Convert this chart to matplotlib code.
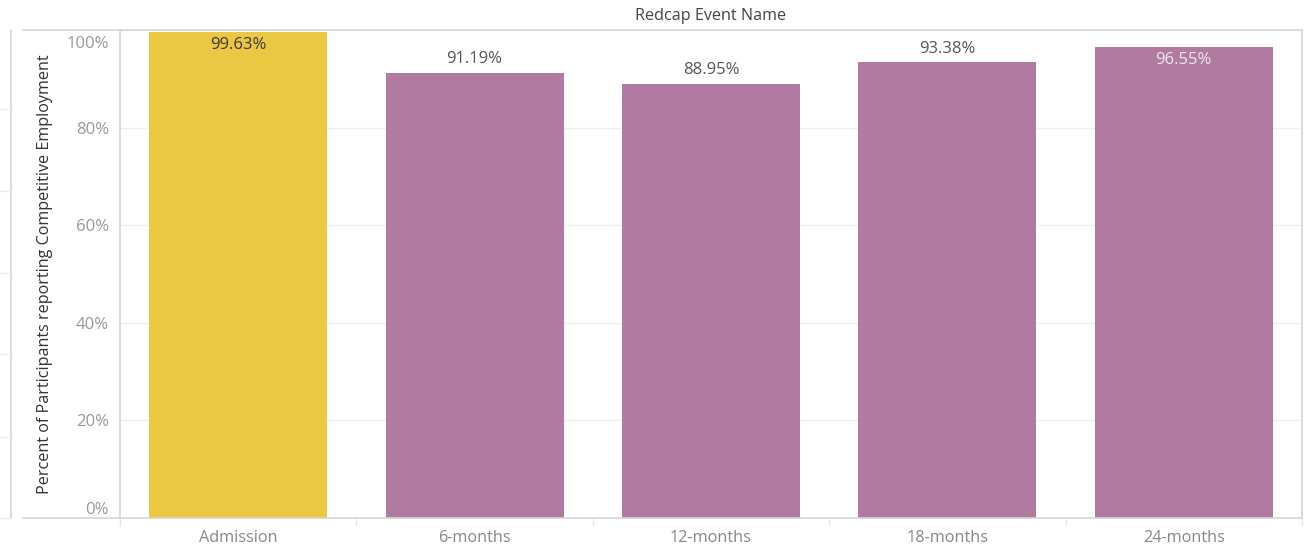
import matplotlib
matplotlib.use("Agg")
import matplotlib.pyplot as plt
from matplotlib.lines import Line2D
from matplotlib.transforms import ScaledTranslation

plt.rcParams['font.family'] = ['Open Sans', 'DejaVu Sans']

categories = ["Admission", "6-months", "12-months", "18-months", "24-months"]
values = [99.63, 91.19, 88.95, 93.38, 96.55]
labels = ["99.63%", "91.19%", "88.95%", "93.38%", "96.55%"]
colors = ["#EBC844", "#B07AA1", "#B07AA1", "#B07AA1", "#B07AA1"]
label_inside = [True, False, False, False, True]
label_colors = ["#3a3a3a", "#555555", "#555555", "#555555", "#f2e6ee"]
yticks = [0, 20, 40, 60, 80, 100]
ytick_labels = ["0%", "20%", "40%", "60%", "80%", "100%"]

W, H = 1305, 548
fig = plt.figure(figsize=(W / 100, H / 100), dpi=100)
L, R, T, B = 120, 1302, 30, 518
ax = fig.add_axes([L / W, (H - B) / H, (R - L) / W, (B - T) / H])

x = list(range(len(categories)))
ax.bar(x, values, width=0.753, color=colors, zorder=2)
ax.set_xlim(-0.5, len(categories) - 0.5)
ax.set_ylim(0, 100)

for xi, v, lab, inside, c in zip(x, values, labels, label_inside, label_colors):
    if inside:
        ax.annotate(lab, (xi, v), xytext=(0, -4), textcoords="offset points",
                    ha="center", va="top", fontsize=12, color=c, zorder=3)
    else:
        ax.annotate(lab, (xi, v), xytext=(0, 4), textcoords="offset points",
                    ha="center", va="bottom", fontsize=12, color=c, zorder=3)

ax.set_yticks(yticks)
ax.set_yticklabels(ytick_labels)
ax.tick_params(axis="y", length=0, pad=8, labelsize=12, labelcolor="#999999")
tl = ax.get_yticklabels()
tl[0].set_va("bottom")
tl[-1].set_va("top")
tl[-1].set_transform(tl[-1].get_transform() +
                     ScaledTranslation(0, -4 / 72, fig.dpi_scale_trans))
ax.yaxis.grid(True, color="#efefef", linewidth=1, zorder=0)
ax.set_axisbelow(True)

ax.set_xticks(x)
ax.set_xticklabels(categories)
ax.tick_params(axis="x", which="major", length=0, pad=9, labelsize=11.7,
               labelcolor="#888888")
ax.set_xticks([i - 0.5 for i in range(len(categories) + 1)], minor=True)
ax.tick_params(axis="x", which="minor", length=6, width=1, color="#e6e6e6")

for s in ["top", "bottom", "right", "left"]:
    ax.spines[s].set_color("#d6d6d6")
    ax.spines[s].set_linewidth(1.2)

ax.set_ylabel("Percent of Participants reporting Competitive Employment",
              fontsize=11.6, color="#333333", va="center")
ax.yaxis.set_label_coords((45 - L) / (R - L), 0.5)

fig.text((L + R) / 2 / W, 1 - 16 / H, "Redcap Event Name", ha="center",
         va="center", fontsize=11.6, color="#444444")

# outer frame decorations
def fl(x0, y0, x1, y1, c="#d6d6d6", lw=1.2):
    fig.add_artist(Line2D([x0 / W, x1 / W], [1 - y0 / H, 1 - y1 / H],
                          color=c, linewidth=lw))

fl(23, 30, L, 30)
fl(23, 518, L, 518)
fl(11, 30, 11, 518)
for yy in [109, 191, 273, 354, 437, 518]:
    fl(0, yy, 10, yy, c="#ececec", lw=1)

fig.savefig("out.png", dpi=100)
